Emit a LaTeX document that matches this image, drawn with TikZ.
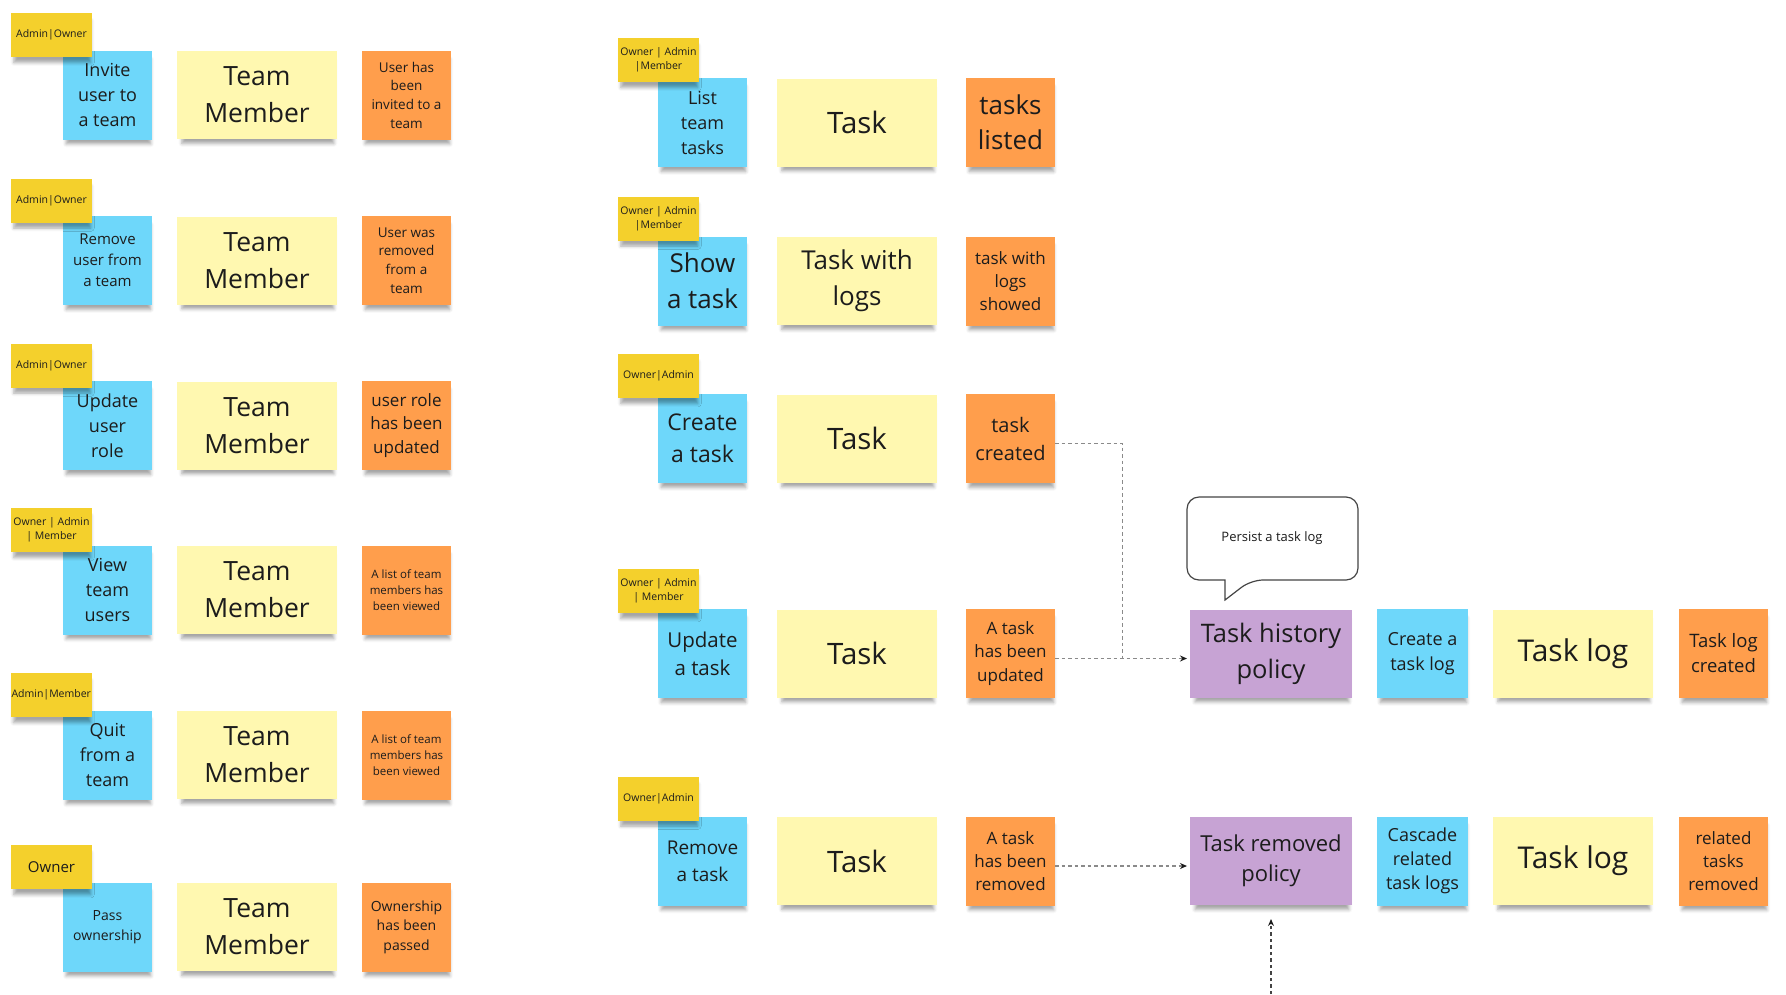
\documentclass[tikz,border=0pt]{standalone}
\usepackage{fontspec}
\setmainfont{Open Sans}
\usetikzlibrary{arrows.meta,positioning,calc,shadows.blur}
\definecolor{TagYellow}{HTML}{F4D02C}
\definecolor{CmdBlue}{HTML}{6ED7FA}
\definecolor{AggYellow}{HTML}{FFF8B0}
\definecolor{EvtOrange}{HTML}{FF9E4C}
\definecolor{PolPurple}{HTML}{C7A3D4}
\definecolor{Ink}{HTML}{1C1C1C}
\definecolor{Wire}{HTML}{8A8A8A}
\definecolor{Outline}{HTML}{444444}
\newcommand\setsz[2]{\fontsize{#1}{#2}\selectfont}

\begin{document}
\begin{tikzpicture}[
    x=1pt, y=-1pt,
    sticky/.style={rectangle,outer sep=0pt,inner sep=1pt,align=center,text=Ink,
        blur shadow={shadow xshift=1pt,shadow yshift=-7pt,shadow scale=0.95,shadow opacity=35,shadow blur radius=3.5pt}},
    role/.style={sticky,fill=TagYellow,minimum width=81pt,minimum height=44pt,font=\setsz{10.5}{14}},
    cmd/.style={sticky,fill=CmdBlue,minimum width=89pt,minimum height=89pt,font=\setsz{18}{25}},
    agg/.style={sticky,fill=AggYellow,minimum width=160pt,minimum height=88pt,font=\setsz{26.5}{37}},
    evt/.style={sticky,fill=EvtOrange,minimum width=89pt,minimum height=89pt,font=\setsz{13.5}{18.7}},
    pol/.style={sticky,fill=PolPurple,minimum width=162pt,minimum height=88pt,font=\setsz{25.5}{36}},
    flow/.style={draw=Wire,line width=1.1pt,dash pattern=on 3.5pt off 3pt},
    arrowed/.style={-{Stealth[length=7pt,width=6pt,color=Ink]}},
]
\useasboundingbox (0,0) rectangle (1786,994);

% team members
\node[cmd] (inviteCmd) at (107.5,95) {Invite\\user to\\a team};
\node[role,above left=-6.5pt and -29pt of inviteCmd] (inviteRole) {Admin|Owner};
\node[agg,right=25pt of inviteCmd] (inviteAgg) {Team\\Member};
\node[evt,right=25pt of inviteAgg] (inviteEvt) {User has\\been\\invited to a\\team};

\node[cmd,font=\setsz{15}{21}] (dropCmd) at (107.5,260.5) {Remove\\user from\\a team};
\node[role,above left=-6.5pt and -29pt of dropCmd] (dropRole) {Admin|Owner};
\node[agg,right=25pt of dropCmd] (dropAgg) {Team\\Member};
\node[evt,right=25pt of dropAgg] (dropEvt) {User was\\removed\\from a\\team};

\node[cmd] (roleCmd) at (107.5,425.5) {Update\\user\\role};
\node[role,above left=-6.5pt and -29pt of roleCmd] (roleRole) {Admin|Owner};
\node[agg,right=25pt of roleCmd] (roleAgg) {Team\\Member};
\node[evt,font=\setsz{17}{23.5},right=25pt of roleAgg] (roleEvt) {user role\\has been\\updated};

\node[cmd] (viewCmd) at (107.5,590) {View\\team\\users};
\node[role,above left=-6.5pt and -29pt of viewCmd] (viewRole) {Owner | Admin\\| Member};
\node[agg,right=25pt of viewCmd] (viewAgg) {Team\\Member};
\node[evt,font=\setsz{11.5}{15.7},right=25pt of viewAgg] (viewEvt) {A list of team\\members has\\been viewed};

\node[cmd] (quitCmd) at (107.5,755) {Quit\\from a\\team};
\node[role,above left=-6.5pt and -29pt of quitCmd] (quitRole) {Admin|Member};
\node[agg,right=25pt of quitCmd] (quitAgg) {Team\\Member};
\node[evt,font=\setsz{11.5}{15.7},right=25pt of quitAgg] (quitEvt) {A list of team\\members has\\been viewed};

\node[cmd,font=\setsz{14}{19.5}] (passCmd) at (107.5,927) {Pass\\ownership};
\node[role,font=\setsz{15}{18},above left=-6.5pt and -29pt of passCmd] (passRole) {Owner};
\node[agg,right=25pt of passCmd] (passAgg) {Team\\Member};
\node[evt,font=\setsz{14}{19.5},right=25pt of passAgg] (passEvt) {Ownership\\has been\\passed};

% tasks
\node[cmd] (listCmd) at (702.5,122.5) {List\\team\\tasks};
\node[role,above left=-4pt and -41pt of listCmd] (listRole) {Owner | Admin\\|Member};
\node[agg,font=\setsz{29.5}{38},right=30pt of listCmd] (listAgg) {Task};
\node[evt,font=\setsz{26}{35},right=29pt of listAgg] (listEvt) {tasks\\listed};

\node[cmd,font=\setsz{26}{36}] (showCmd) at (702.5,281) {Show\\a task};
\node[role,above left=-4pt and -41pt of showCmd] (showRole) {Owner | Admin\\|Member};
\node[agg,font=\setsz{26}{36},right=30pt of showCmd] (showAgg) {Task with\\logs};
\node[evt,font=\setsz{17}{23.3},right=29pt of showAgg] (showEvt) {task with\\logs\\showed};

\node[cmd,font=\setsz{23}{32}] (createCmd) at (702.5,438.5) {Create\\a task};
\node[role,above left=-4pt and -41pt of createCmd] (createRole) {Owner|Admin};
\node[agg,font=\setsz{29.5}{38},right=30pt of createCmd] (createAgg) {Task};
\node[evt,font=\setsz{20}{28},right=29pt of createAgg] (createEvt) {task\\created};

\node[cmd,font=\setsz{20.5}{28}] (updateCmd) at (702.5,653.5) {Update\\a task};
\node[role,above left=-4pt and -41pt of updateCmd] (updateRole) {Owner | Admin\\| Member};
\node[agg,font=\setsz{29.5}{38},right=30pt of updateCmd] (updateAgg) {Task};
\node[evt,font=\setsz{17}{23.3},right=29pt of updateAgg] (updateEvt) {A task\\has been\\updated};

\node[cmd,font=\setsz{19}{26.7}] (removeCmd) at (702.5,861) {Remove\\a task};
\node[role,above left=-4pt and -41pt of removeCmd] (removeRole) {Owner|Admin};
\node[agg,font=\setsz{29.5}{38},right=30pt of removeCmd] (removeAgg) {Task};
\node[evt,font=\setsz{17}{23.3},right=29pt of removeAgg] (removeEvt) {A task\\has been\\removed};

% task log policies
\node[pol] (historyPol) at (1271,653.5) {Task history\\policy};
\node[cmd,minimum width=91pt,right=25pt of historyPol] (logCmd) {Create a\\task log};
\node[agg,font=\setsz{30}{40},right=25pt of logCmd] (logAgg) {Task log};
\node[evt,font=\setsz{18.5}{25},right=26pt of logAgg] (logEvt) {Task log\\created};

\node[pol,font=\setsz{22}{30}] (removedPol) at (1271,861) {Task removed\\policy};
\node[cmd,minimum width=91pt,font=\setsz{18}{24},right=25pt of removedPol] (cascadeCmd) {Cascade\\related\\task logs};
\node[agg,font=\setsz{30}{40},right=25pt of cascadeCmd] (cascadeAgg) {Task log};
\node[evt,font=\setsz{17}{23},right=26pt of cascadeAgg] (cascadeEvt) {related\\tasks\\removed};

% speech bubble
\draw[draw=Outline,line width=1.2pt,fill=white] (1225,580) [rounded corners=12pt] -- (1187,580) -- (1187,497)
    -- (1358,497) -- (1358,580) -- (1251,580) [sharp corners] -- (1225,600) -- cycle;
\node[font=\setsz{13}{16},text=Ink] (persistNote) at (1272,538) {Persist a task log};

% connectors
\draw[flow] ([yshift=-5pt]createEvt.east) -| ($([yshift=-5pt]updateEvt.east)!.5!([yshift=-5pt]historyPol.west)$);
\draw[flow,arrowed,shorten >=3pt] ([yshift=-5pt]updateEvt.east) -- ([yshift=-5pt]historyPol.west);
\draw[flow,arrowed,shorten >=3pt] ([yshift=-5pt]removeEvt.east) -- ([yshift=-5pt]removedPol.west);
\coordinate (feedIn) at (removedPol.south |- 0,994);
\draw[flow,draw=Outline,arrowed,shorten >=14pt] (feedIn) -- (removedPol.south);
\end{tikzpicture}
\end{document}
